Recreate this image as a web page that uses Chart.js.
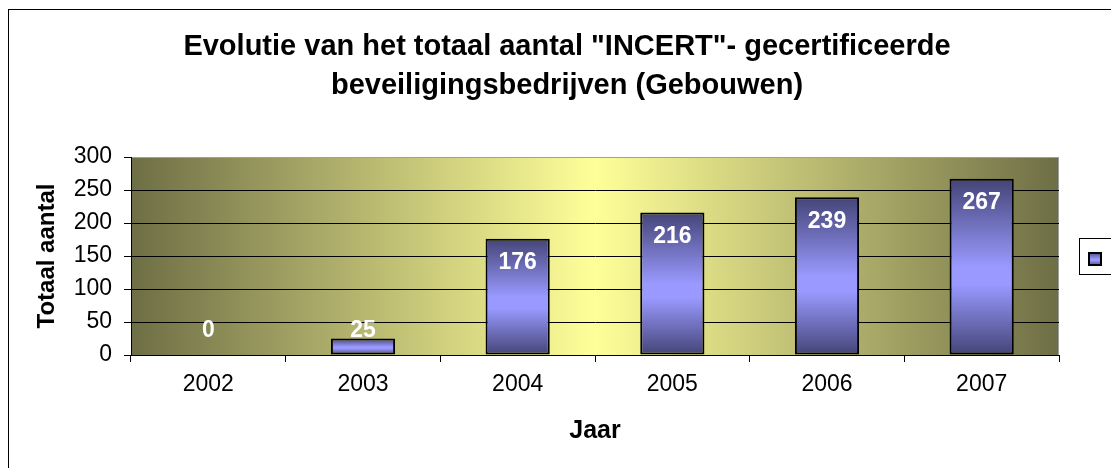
<!DOCTYPE html>
<html>
<head>
<meta charset="utf-8">
<script src="https://cdn.jsdelivr.net/npm/chart.js@4"></script>
<style>
  html, body { margin: 0; padding: 0; background: #fff; }
  canvas { display: block; }
</style>
</head>
<body>
<canvas id="incertChart" width="1111" height="468"></canvas>
<script>
// chart data
const years = ["2002", "2003", "2004", "2005", "2006", "2007"];
const totals = [0, 25, 176, 216, 239, 267];
const titleLines = ["Evolutie van het totaal aantal \"INCERT\"- gecertificeerde", "beveiligingsbedrijven (Gebouwen)"];
const yTicks = [0, 50, 100, 150, 200, 250, 300];

const FONT = "Arial, 'Liberation Sans', sans-serif";

function barGradient(ctx, top, bottom) {
  const g = ctx.createLinearGradient(0, top, 0, bottom);
  g.addColorStop(0, "#444477");
  g.addColorStop(0.5, "#9999ff");
  g.addColorStop(0.6, "#9999ff");
  g.addColorStop(1, "#444477");
  return g;
}

// background, frame, title, legend, value labels
const decorPlugin = {
  id: "decor",
  beforeDraw(chart) {
    const { ctx, chartArea: a } = chart;
    ctx.save();
    ctx.fillStyle = "#fff";
    ctx.fillRect(0, 0, chart.width, chart.height);
    ctx.strokeStyle = "#000";
    ctx.lineWidth = 1;
    ctx.strokeRect(8.5, 9.5, 1200, 600);

    const g = ctx.createLinearGradient(a.left, 0, a.right, 0);
    g.addColorStop(0, "#6e6e46");
    g.addColorStop(0.5, "#ffff99");
    g.addColorStop(1, "#6e6e46");
    ctx.fillStyle = g;
    ctx.fillRect(a.left, a.top, a.right - a.left, a.bottom - a.top);
    ctx.strokeStyle = "#a0a0a0";
    ctx.strokeRect(a.left + 0.5, a.top + 0.5, a.right - a.left - 1, a.bottom - a.top);

    ctx.fillStyle = "#000";
    ctx.font = "bold 29px " + FONT;
    ctx.textAlign = "center";
    ctx.textBaseline = "middle";
    ctx.fillText(titleLines[0], 567, 47);
    ctx.fillText(titleLines[1], 567, 86);
    ctx.restore();
  },
  afterDatasetsDraw(chart) {
    const { ctx } = chart;
    const meta = chart.getDatasetMeta(0);
    const base = chart.scales.y.getPixelForValue(0);
    ctx.save();
    ctx.fillStyle = "#fff";
    ctx.font = "bold 23px " + FONT;
    ctx.textAlign = "center";
    ctx.textBaseline = "middle";
    meta.data.forEach((bar, i) => {
      const y = Math.min(bar.y + 24, base - 24);
      ctx.fillText(String(totals[i]), bar.x, y);
    });
    ctx.restore();
  },
  afterDraw(chart) {
    const { ctx } = chart;
    ctx.save();
    ctx.fillStyle = "#fff";
    ctx.fillRect(1080, 239, 40, 35);
    ctx.strokeStyle = "#000";
    ctx.lineWidth = 1;
    ctx.strokeRect(1079.5, 238.5, 60, 36);
    ctx.fillStyle = barGradient(ctx, 252, 266);
    ctx.fillRect(1088, 252, 14, 14);
    ctx.lineWidth = 2;
    ctx.strokeRect(1089, 253, 12, 12);
    ctx.restore();
  }
};

const ctx = document.getElementById("incertChart").getContext("2d");

new Chart(ctx, {
  type: "bar",
  data: {
    labels: years,
    datasets: [{
      label: "",
      data: totals,
      backgroundColor: (c) => {
        const chart = c.chart;
        if (!chart.chartArea || c.dataIndex === undefined) return "#9999ff";
        const top = chart.scales.y.getPixelForValue(totals[c.dataIndex]);
        const bottom = chart.scales.y.getPixelForValue(0);
        if (bottom - top < 1) return "#9999ff";
        return barGradient(chart.ctx, top, bottom);
      },
      borderColor: "#000",
      borderWidth: 2,
      borderSkipped: false,
      categoryPercentage: 0.415,
      barPercentage: 1
    }]
  },
  options: {
    responsive: false,
    devicePixelRatio: 1,
    animation: false,
    layout: { padding: { top: 157, left: 33, right: 52, bottom: 22 } },
    plugins: {
      legend: { display: false },
      title: { display: false },
      tooltip: { enabled: false }
    },
    scales: {
      x: {
        afterFit: (s) => { s.height = 91; },
        grid: {
          drawOnChartArea: false,
          tickLength: 7,
          tickColor: "#000",
          offset: true
        },
        border: { color: "#000", width: 1 },
        ticks: { color: "#000", font: { family: FONT, size: 23 }, padding: 9 },
        title: {
          display: true,
          text: "Jaar",
          color: "#000",
          font: { family: FONT, size: 25, weight: "bold" },
          padding: 0
        }
      },
      y: {
        min: 0,
        max: 300,
        afterFit: (s) => { s.width = 131 - 33; },
        afterBuildTicks: (s) => { s.ticks = yTicks.map(v => ({ value: v })); },
        grid: {
          color: (c) => (c.tick && (c.tick.value === 300 || c.tick.value === 0) ? "rgba(0,0,0,0)" : "#000"),
          tickColor: "#000",
          tickLength: 7
        },
        border: { color: "#000", width: 1 },
        ticks: { color: "#000", font: { family: FONT, size: 23 }, padding: 12 },
        title: {
          display: true,
          text: "Totaal aantal",
          color: "#000",
          font: { family: FONT, size: 24, weight: "bold" },
          padding: 0
        }
      }
    }
  },
  plugins: [decorPlugin]
});
</script>
</body>
</html>
